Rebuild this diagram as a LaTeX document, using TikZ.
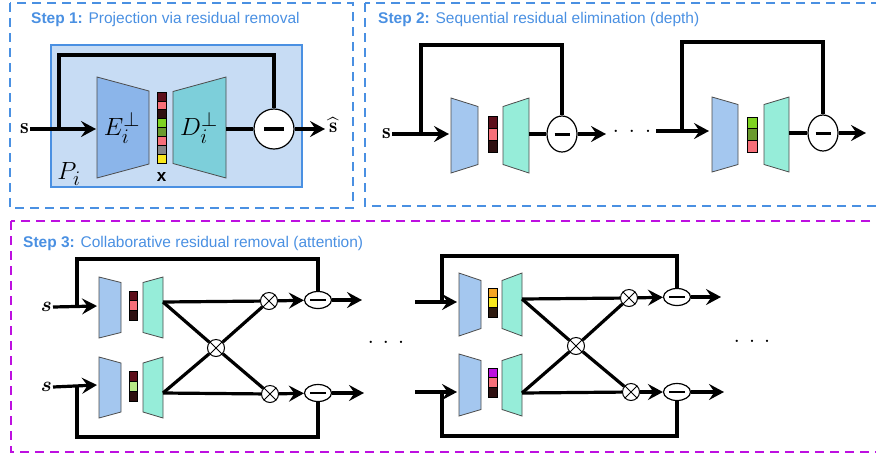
\documentclass[tikz,border=0pt]{standalone}
\usepackage{fontspec}
\usepackage{amsmath}
\usepackage{bm}
\newfontfamily\titlefont{Liberation Sans}
\usetikzlibrary{arrows.meta,shapes.geometric,calc}
\definecolor{boxblue}{HTML}{4A90E2}
\definecolor{boxmag}{HTML}{BD10E0}
\definecolor{pfill}{HTML}{C7DCF4}
\definecolor{encA}{HTML}{8BB5EA}
\definecolor{decA}{HTML}{7DCFDA}
\definecolor{encB}{HTML}{A4C7EF}
\definecolor{decB}{HTML}{96EDD9}
\definecolor{cdred}{HTML}{5E0F1B}
\definecolor{cpink}{HTML}{F66F79}
\definecolor{cblk}{HTML}{2E0F10}
\definecolor{cgreen}{HTML}{7ED321}
\definecolor{colive}{HTML}{6B9A2E}
\definecolor{cgray}{HTML}{868686}
\definecolor{cyel}{HTML}{F8E71C}
\definecolor{corange}{HTML}{F5A623}
\definecolor{clgreen}{HTML}{B8E986}
\definecolor{cpurple}{HTML}{BD10E0}
\definecolor{cbrown}{HTML}{2E1A0F}
\tikzset{
  dashbox/.style={line width=2.6pt, dash pattern=on 9pt off 6pt},
  ln/.style={line width=3.2pt},
  arr/.style={line width=3.2pt, -{Stealth[length=15pt,width=16pt,inset=5.5pt]}},
  trap/.style={draw=black!70, line width=0.8pt},
  cellst/.style={draw=black, line width=0.7pt},
  mcirc/.style={circle, draw, line width=1.2pt, fill=white, minimum size=40pt, inner sep=0pt},
  mellA/.style={ellipse, draw, line width=1.2pt, fill=white, minimum width=30pt, minimum height=36pt, inner sep=0pt},
  mellB/.style={ellipse, draw, line width=1.2pt, fill=white, minimum width=27pt, minimum height=17pt, inner sep=0pt},
  otim/.style={circle, draw, line width=1pt, fill=white, minimum size=17pt, inner sep=0pt,
    append after command={(\tikzlastnode.45) edge[line width=1pt] (\tikzlastnode.225)
                          (\tikzlastnode.135) edge[line width=1pt] (\tikzlastnode.315)}},
  ttl/.style={anchor=base west, inner sep=0pt, text=boxblue, font=\titlefont\fontsize{15.5}{18}\selectfont},
  svar/.style={anchor=east, inner sep=1pt, font=\fontsize{22}{24}\selectfont},
  dotsn/.style={inner sep=0pt, font=\bfseries\fontsize{16}{16}\selectfont},
}
\newcommand{\trapz}[6]{%
  \filldraw[trap,fill=#6] (#1,#3-#4) -- (#2,#3-#5) -- (#2,#3+#5) -- (#1,#3+#4) -- cycle;}
\newcommand{\codev}[5]{%
  \foreach \cc [count=\ii from 0] in {#5} {\filldraw[cellst,fill=\cc] (#1,#2+\ii*#4) rectangle ++(#3,#4);}}
\begin{document}
\begin{tikzpicture}[x=1pt,y=-1pt]
\useasboundingbox (0,0) rectangle (876,459);

% ---------------- frames ----------------
\draw[dashbox,draw=boxblue] (10,3) rectangle (353,208);
\draw[dashbox,draw=boxblue] (365,3) rectangle (892,206);
\draw[dashbox,draw=boxmag] (11,221) rectangle (892,452);
\node[ttl] (t1) at (31,23.5) {\bfseries Step 1: \mdseries Projection via residual removal};
\node[ttl] (t2) at (378,23.5) {\bfseries Step 2: \mdseries Sequential residual elimination (depth)};
\node[ttl] (t3) at (23,247) {\bfseries Step 3: \mdseries Collaborative residual removal (attention)};

% ---------------- Step 1 ----------------
\filldraw[fill=pfill,draw=boxblue,line width=2.5pt] (51,45) rectangle (302,187);
\trapz{97}{149}{127.5}{50.5}{36.5}{encA}
\trapz{173}{226}{127.5}{36}{50.5}{decA}
\codev{157}{92}{9}{8.9}{cdred,cpink,cblk,cgreen,colive,cpink,cgray,cyel}
\node (E1) at (122,128) {\fontsize{30}{34}\selectfont $E_i^{\perp}$};
\node (D1) at (199,128) {\fontsize{30}{34}\selectfont $D_i^{\perp}$};
\node (x1) at (161.5,177) {\titlefont\bfseries\fontsize{17}{17}\selectfont x};
\node (P1) at (69,174) {\fontsize{29}{32}\selectfont $P_i$};
\node[svar] (s1) at (30,129) {$\mathbf{s}$};
\coordinate (e1in) at (96,129);
\coordinate (f1) at (59,129);
\coordinate (d1out) at (226,129);
\node[mcirc] (m1) at (274,129) {\rule{20pt}{4pt}};
\coordinate (o1) at (325,129);
\node[anchor=west,inner sep=0pt] (sh1) at (329,125) {\fontsize{21}{24}\selectfont $\widehat{\mathbf{s}}$};
\draw[arr] (s1.east) -- (e1in);
\draw[ln] (f1) -- ++(0,-74) -| (m1.north);
\draw[ln] (d1out) -- (m1.west);
\draw[arr] (m1.east) -- (o1);

% ---------------- Step 2 ----------------
% block A
\trapz{451}{478}{135.5}{37.5}{29}{encB}
\codev{488}{116}{9}{12}{cdred,cpink,cblk}
\trapz{503}{529}{135.5}{29}{37.5}{decB}
\node[svar] (s2) at (392,134) {$\mathbf{s}$};
\coordinate (e2in) at (449,134);
\coordinate (f2) at (421,134);
\coordinate (d2out) at (529,134);
\node[mellA] (m2) at (562,134) {\rule{15pt}{3pt}};
\coordinate (q2) at (606,134);
\draw[arr] (s2.east) -- (e2in);
\draw[ln] (f2) -- ++(0,-89) -| (m2.north);
\draw[ln] (d2out) -- (m2.west);
\draw[arr] (m2.east) -- (q2);
\node[dotsn] (dots2) at (632,131) {.\hspace{11pt}.\hspace{11pt}.};
% block B
\trapz{712}{738}{134.5}{37.5}{30}{encB}
\codev{747}{117}{10}{11.7}{cgreen,colive,cpink}
\trapz{764}{789}{134.5}{30}{37.5}{decB}
\coordinate (i2b) at (656,131);
\coordinate (e2bin) at (709,131);
\coordinate (f2b) at (682,131);
\coordinate (d2bout) at (789,133);
\node[mellA] (m2b) at (823,133) {\rule{15pt}{3pt}};
\coordinate (q2b) at (866,133);
\draw[arr] (i2b) -- (e2bin);
\draw[ln] (f2b) -- ++(0,-89) -| (m2b.north);
\draw[ln] (d2bout) -- (m2b.west);
\draw[arr] (m2b.east) -- (q2b);

% ---------------- Step 3 ----------------
% block 1
\trapz{99}{121}{307.5}{30.5}{25}{encB}
\codev{129}{291}{8}{9.7}{cdred,cpink,cblk}
\trapz{143}{163}{307.5}{25}{30.5}{decB}
\trapz{99}{121}{387.5}{30.5}{24.5}{encB}
\codev{129}{371}{8}{10}{cdred,clgreen,cblk}
\trapz{143}{163}{387.5}{24.5}{30.5}{decB}
\node[svar] (s3t) at (53,307) {$\bm{s}$};
\node[svar] (s3b) at (53,387) {$\bm{s}$};
\coordinate (e3t) at (97,306);
\coordinate (e3b) at (97,385);
\coordinate (f3t) at (77,306);
\coordinate (f3b) at (77,385);
\coordinate (d3t) at (163,302);
\coordinate (d3b) at (163,393);
\node[otim] (o3t) at (269,301) {};
\node[otim] (o3b) at (270,394) {};
\node[otim] (c3) at (216,348) {};
\node[mellB] (m3t) at (318,300) {\rule{16pt}{2.8pt}};
\node[mellB] (m3b) at (318,393) {\rule{16pt}{2.8pt}};
\coordinate (q3t) at (362,300);
\coordinate (q3b) at (364,393);
\draw[arr] (s3t.east) -- (e3t);
\draw[arr] (s3b.east) -- (e3b);
\draw[ln] (f3t) -- ++(0,-47) -| (m3t.north);
\draw[ln] (f3b) -- ++(0,52) -| (m3b.south);
\draw[ln] (d3t) -- (o3t);
\draw[ln] (d3b) -- (o3b);
\draw[ln] (d3t) -- (c3) -- (o3b);
\draw[ln] (d3b) -- (c3) -- (o3t);
\draw[arr] (o3t) -- (m3t);
\draw[arr] (o3b) -- (m3b);
\draw[arr] (m3t) -- (q3t);
\draw[arr] (m3b) -- (q3b);
\node[dotsn] (dots3a) at (386,342) {.\hspace{10pt}.\hspace{10pt}.};
% block 2
\trapz{459}{481}{304.5}{31.5}{24}{encB}
\codev{488}{288}{9}{9.7}{corange,cyel,cbrown}
\trapz{502}{522}{304.5}{24}{31.5}{decB}
\trapz{459}{481}{385}{31}{24.5}{encB}
\codev{488}{368}{9}{9.7}{cpurple,cpink,cblk}
\trapz{502}{522}{385}{24.5}{31}{decB}
\coordinate (i4t) at (415,302);
\coordinate (i4b) at (415,392);
\coordinate (e4t) at (457,302);
\coordinate (e4b) at (457,392);
\coordinate (f4t) at (442,302);
\coordinate (f4b) at (442,392);
\coordinate (d4t) at (522,299);
\coordinate (d4b) at (522,393);
\node[otim] (o4t) at (629,298) {};
\node[otim] (o4b) at (631,392) {};
\node[otim] (c4) at (576,346) {};
\node[mellB] (m4t) at (677,297) {\rule{16pt}{2.8pt}};
\node[mellB] (m4b) at (677,392) {\rule{16pt}{2.8pt}};
\coordinate (q4t) at (721,297);
\coordinate (q4b) at (724,392);
\draw[arr] (i4t) -- (e4t);
\draw[arr] (i4b) -- (e4b);
\draw[ln] (f4t) -- ++(0,-46) -| (m4t.north);
\draw[ln] (f4b) -- ++(0,44) -| (m4b.south);
\draw[ln] (d4t) -- (o4t);
\draw[ln] (d4b) -- (o4b);
\draw[ln] (d4t) -- (c4) -- (o4b);
\draw[ln] (d4b) -- (c4) -- (o4t);
\draw[arr] (o4t) -- (m4t);
\draw[arr] (o4b) -- (m4b);
\draw[arr] (m4t) -- (q4t);
\draw[arr] (m4b) -- (q4b);
\node[dotsn] (dots3b) at (752,341) {.\hspace{10pt}.\hspace{10pt}.};
\end{tikzpicture}
\end{document}
